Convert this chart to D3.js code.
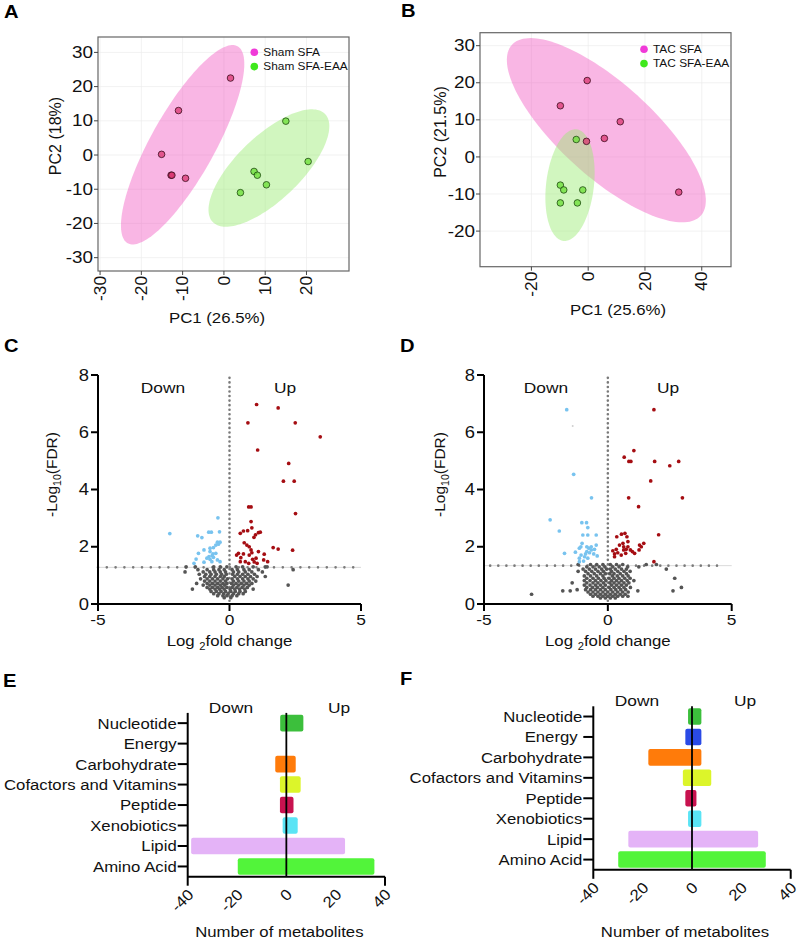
<!DOCTYPE html>
<html><head><meta charset="utf-8">
<script src="https://cdn.jsdelivr.net/npm/d3@7"></script>
<style>
body{margin:0;background:#fff;}
svg text{font-family:"Liberation Sans",Arial,Helvetica,sans-serif;}
</style></head><body>
<svg id="chart" width="800" height="941"></svg>
<script>
// ---------------- DATA ----------------
// Panel A PCA (Sham)
const pcaA_labels = ["Sham SFA", "Sham SFA-EAA"];
const pcaA_sfa = [[1.6,22.5],[-11.0,13.0],[-15.1,0.2],[-12.8,-5.9],[-12.6,-5.9],[-9.3,-6.8]];
const pcaA_eaa = [[15.0,9.9],[20.4,-1.9],[7.3,-4.8],[8.1,-5.9],[10.3,-8.7],[4.0,-11.0]];
const ellA_sfa = {c:[-10.0,3.0], u:[13.3,28.8], v:[6.8,-4.5]};
const ellA_eaa = {c:[10.9,-3.8], u:[13.6,15.8], v:[5.4,-6.7]};
const pcaA_xTicks = [-30,-20,-10,0,10,20];
const pcaA_yTicks = [-30,-20,-10,0,10,20,30];
// Panel B PCA (TAC)
const pcaB_labels = ["TAC SFA", "TAC SFA-EAA"];
const pcaB_sfa = [[-0.35,20.6],[-9.8,13.8],[11.3,9.5],[5.7,5.0],[-0.6,4.2],[31.9,-9.5]];
const pcaB_eaa = [[-4.2,4.7],[-9.8,-7.6],[-8.6,-8.9],[-1.9,-8.9],[-9.8,-12.4],[-3.8,-12.4]];
const ellB_sfa = {c:[6.4,7.2], u:[33.3,-23.0], v:[10.9,9.4]};
const ellB_eaa = {c:[-6.4,-7.6], u:[2.35,15.05], v:[8.35,-0.78]};
const pcaB_xTicks = [-20,0,20,40];
const pcaB_yTicks = [-20,-10,0,10,20,30];

// Panel C volcano
const volTicksX = [-5,0,5];
const volTicksY = [0,2,4,6,8];
const upC = [[1.03,6.97],[1.85,6.85],[0.70,6.33],[2.50,6.33],[3.45,5.84],[1.07,5.38],[2.25,4.91],[2.05,4.29],[2.46,4.29],
  [0.73,3.39],[0.82,3.39],[2.51,3.16],[0.82,2.88],[0.53,2.55],[0.69,2.56],[0.85,2.66],[0.41,2.47],[0.99,2.42],[1.10,2.49],
  [1.17,2.51],[0.93,2.33],[0.56,2.14],[0.66,2.06],[0.75,2.00],[0.82,1.89],[0.34,1.77],[0.27,1.71],[0.43,1.62],[0.53,1.75],
  [0.75,1.71],[0.85,1.79],[1.10,1.83],[0.60,1.48],[0.41,1.48],[1.01,1.60],[0.94,1.47],[1.05,1.42],[1.32,1.74],[1.30,1.54],
  [1.45,1.48],[1.66,1.97],[1.85,1.92],[2.40,1.88],[0.73,1.42],[0.88,1.56]];
const downC = [[-2.27,2.46],[-0.44,3.01],[-0.79,2.51],[-0.69,2.51],[-0.38,2.52],[-1.21,2.38],[-1.05,2.32],[-0.46,2.16],
  [-0.36,2.16],[-0.52,2.06],[-0.42,2.09],[-0.74,1.95],[-0.61,1.97],[-0.97,1.89],[-0.74,1.83],[-0.63,1.75],[-0.66,1.69],
  [-0.78,1.66],[-0.61,1.63],[-0.52,1.77],[-1.18,1.77],[-0.86,1.60],[-0.74,1.56],[-1.27,1.57],[-0.46,1.54],[-0.36,1.48],
  [-1.35,1.42],[-0.97,1.46],[-0.67,1.48]];
// grey (non-significant) rows: [y, [x...]]
const nsC = [
  [1.30,[-1.65,-1.3,-0.6,-0.35,-0.1,0.25,0.5,0.9,1.36,1.43]],
  [1.20,[-1.2,-0.85,-0.6,-0.4,-0.2,0.1,0.3,0.55,0.75,1.1,2.42]],
  [1.12,[-1.0,-0.75,-0.55,-0.35,-0.15,0.15,0.35,0.6,0.85,1.25,-1.69]],
  [1.04,[-1.15,-0.9,-0.7,-0.5,-0.3,-0.12,0.12,0.3,0.5,0.7,0.95]],
  [0.96,[-0.95,-0.75,-0.55,-0.35,-0.2,0.2,0.4,0.6,0.8,1.05,1.36]],
  [0.88,[-1.1,-0.85,-0.65,-0.45,-0.25,-0.08,0.1,0.3,0.5,0.7,0.9]],
  [0.80,[-0.95,-0.75,-0.55,-0.35,-0.15,0.15,0.35,0.55,0.75,1.0]],
  [0.72,[-1.25,-0.85,-0.65,-0.45,-0.25,-0.1,0.08,0.25,0.45,0.65,0.85]],
  [0.66,[-1.0,-0.75,-0.55,-0.35,-0.18,0.15,0.35,0.55,0.75,2.23]],
  [0.58,[-0.85,-0.65,-0.45,-0.28,-0.1,0.1,0.28,0.48,0.68]],
  [0.52,[-1.41,-0.75,-0.55,-0.38,-0.2,0.02,0.2,0.38,0.58,0.9]],
  [0.44,[-0.7,-0.5,-0.32,-0.15,0.05,0.22,0.4,0.6]],
  [0.36,[-0.6,-0.4,-0.22,-0.05,0.15,0.35,0.52]],
  [0.29,[-0.45,-0.25,-0.1,0.1,0.28]],
  [0.22,[-0.2,0.05]]
];
const threshC = 1.28;

// Panel D volcano
const upD = [[1.86,6.79],[1.05,5.36],[0.66,5.13],[0.85,4.98],[0.93,4.98],[1.89,4.98],[2.50,4.83],[2.86,4.98],[1.73,4.30],
  [0.84,3.71],[3.01,3.71],[1.24,3.40],[2.05,2.42],[0.36,2.35],[0.55,2.44],[0.77,2.35],[0.69,2.47],[0.81,2.18],[0.61,2.12],
  [0.47,2.06],[0.20,1.86],[0.34,1.91],[0.27,1.75],[0.40,1.79],[0.64,1.89],[0.72,1.77],[0.54,1.71],[0.91,1.89],[1.08,1.77],
  [1.26,1.89],[1.35,2.00],[1.45,2.12],[1.28,2.06],[0.81,2.00],[0.99,1.83],[0.64,2.00],[0.74,1.91],[1.86,1.48],[0.27,1.65]];
const downD = [[-1.66,6.79],[-1.38,4.53],[-0.66,3.71],[-2.33,2.94],[-1.05,2.84],[-0.86,2.84],[-1.96,2.55],[-0.81,2.67],
  [-1.01,2.41],[-0.81,2.41],[-0.47,2.41],[-1.04,2.12],[-1.09,2.00],[-1.15,1.95],[-0.85,2.00],[-0.77,1.95],[-0.67,1.89],
  [-0.85,1.83],[-0.74,1.79],[-0.90,1.75],[-0.54,1.91],[-0.57,1.75],[-0.47,2.06],[-0.67,2.00],[-1.08,1.71],[-0.94,1.65],
  [-1.15,1.60],[-0.81,1.60],[-0.43,1.68],[-0.98,1.50],[-1.15,1.48],[-1.75,1.77],[-1.31,1.81]];
const faintD = [[-1.42,6.22]];
const nsD = [
  [1.38,[-1.2,-0.7,-0.45,-0.2,0.1,0.35,0.6,1.55,1.96]],
  [1.30,[-0.85,-0.6,-0.35,-0.12,0.2,0.45,0.8,1.25]],
  [1.22,[-1.0,-0.75,-0.5,-0.25,-0.05,0.1,0.3,0.55,0.75,2.36]],
  [1.14,[-1.2,-0.9,-0.65,-0.4,-0.18,0.15,0.4,0.65,0.9]],
  [1.06,[-0.8,-0.55,-0.3,-0.1,0.08,0.25,0.5,0.75]],
  [0.98,[-0.95,-0.7,-0.45,-0.2,0.18,0.38,0.6,0.82]],
  [0.90,[-0.85,-0.6,-0.38,-0.15,0.05,0.25,0.45,0.68,0.9,2.70]],
  [0.82,[-0.95,-0.72,-0.5,-0.28,-0.08,0.15,0.35,0.55,0.78,1.05]],
  [0.74,[-1.44,-0.85,-0.6,-0.4,-0.18,0.08,0.25,0.45,0.65,0.85]],
  [0.66,[-0.95,-0.72,-0.5,-0.3,-0.1,0.15,0.35,0.55,0.75]],
  [0.58,[-0.85,-0.62,-0.42,-0.2,0.05,0.25,0.45,0.65,0.91,2.97]],
  [0.50,[-1.24,-0.9,-0.7,-0.5,-0.3,-0.1,0.12,0.32,0.52,0.72]],
  [0.46,[-1.82,-1.52,1.21,2.63]],
  [0.42,[-0.8,-0.6,-0.4,-0.2,0.0,0.2,0.4,0.6,0.82]],
  [0.34,[-3.08,-0.7,-0.5,-0.3,-0.1,0.1,0.3,0.5,0.7]],
  [0.27,[-0.6,-0.4,-0.2,0.0,0.2,0.4,0.6,0.81]],
  [0.21,[-0.3,-0.1,0.1,0.3]]
];
const threshD = 1.34;

// Panels E/F bars
const barCats = ["Nucleotide","Energy","Carbohydrate","Cofactors and Vitamins","Peptide","Xenobiotics","Lipid","Amino Acid"];
const barLabelsF = ["Nucleotide","Energy ","Carbohydrate","Cofactors and Vitamins","Peptide","Xenobiotics","Lipid","Amino Acid"];
const barColors = ["#3cbf3c","#2a4ae6","#ff7b0a","#dcf52a","#c8124f","#5ae4f5","#e4b3f7","#52f43a"];
const downE = [-2.5, 0, -4.5, -2.6, -2.6, -1.5, -38.6, -19.7];
const upE   = [ 6.9, 0,  3.8,  5.8,  2.9,  4.6,  23.8,  35.7];
const downF = [-1.6, -2.7, -17.7, -3.7, -2.7, -1.6, -25.8, -29.9];
const upF   = [ 3.8,  3.8,   3.8,  7.8,  1.8,  3.8,  26.8,  29.9];
const barTicks = [-40,-20,0,20,40];

// ---------------- DRAWING ----------------
const svg = d3.select("#chart");
const SX = 1.12;
function txt(g, x, y, s, o = {}) {
  const t = g.append("text")
    .attr("transform", `translate(${x},${y}) rotate(${o.rotate || 0}) scale(${o.sx == null ? SX : o.sx},1)`)
    .attr("text-anchor", o.anchor || "start")
    .attr("font-size", o.size || 15)
    .attr("font-weight", o.weight || "normal")
    .attr("fill", o.fill || "#111");
  if (o.dy) t.attr("dy", o.dy);
  if (o.pre) t.style("white-space", "pre");
  t.text(s);
  return t;
}

// panel letters
[["A",4,18],["B",401,17],["C",4,352],["D",400,352],["E",3,687],["F",400,685]].forEach(d =>
  txt(svg, d[1], d[2], d[0], {size: 18, weight: "bold", fill: "#000"}));

function ellPts(e) {
  return d3.range(0, 145).map(i => {
    const t = i / 144 * 2 * Math.PI;
    return [e.c[0] + Math.cos(t) * e.u[0] + Math.sin(t) * e.v[0],
            e.c[1] + Math.cos(t) * e.u[1] + Math.sin(t) * e.v[1]];
  });
}

function drawPCA(c) {
  const g = svg.append("g");
  const x = d3.scaleLinear().domain(c.xDom).range([c.left, c.right]);
  const y = d3.scaleLinear().domain(c.yDom).range([c.bottom, c.top]);
  g.selectAll(null).data(c.xTicks).join("line")
    .attr("x1", d => x(d)).attr("x2", d => x(d)).attr("y1", c.top).attr("y2", c.bottom)
    .attr("stroke", "#ececec").attr("stroke-width", 0.7);
  g.selectAll(null).data(c.yTicks).join("line")
    .attr("y1", d => y(d)).attr("y2", d => y(d)).attr("x1", c.left).attr("x2", c.right)
    .attr("stroke", "#ececec").attr("stroke-width", 0.7);
  const line = d3.line().x(d => x(d[0])).y(d => y(d[1])).curve(d3.curveLinearClosed);
  g.append("path").attr("d", line(ellPts(c.ell1))).attr("fill", "#f050bf").attr("fill-opacity", 0.42);
  g.append("path").attr("d", line(ellPts(c.ell2))).attr("fill", "#98ea70").attr("fill-opacity", 0.45);
  g.selectAll(null).data(c.pts1).join("circle")
    .attr("cx", d => x(d[0])).attr("cy", d => y(d[1])).attr("r", 3.3)
    .attr("fill", "#d8306c").attr("fill-opacity", 0.72).attr("stroke", "#3a0a1c").attr("stroke-width", 0.8);
  g.selectAll(null).data(c.pts2).join("circle")
    .attr("cx", d => x(d[0])).attr("cy", d => y(d[1])).attr("r", 3.3)
    .attr("fill", "#6fe03c").attr("fill-opacity", 0.8).attr("stroke", "#1e4a10").attr("stroke-width", 0.8);
  g.append("rect").attr("x", c.left).attr("y", c.top).attr("width", c.right - c.left).attr("height", c.bottom - c.top)
    .attr("fill", "none").attr("stroke", "#666").attr("stroke-width", 1.2);
  // ticks
  g.selectAll(null).data(c.yTicks).join("line")
    .attr("x1", c.left - 4).attr("x2", c.left).attr("y1", d => y(d)).attr("y2", d => y(d))
    .attr("stroke", "#444").attr("stroke-width", 1);
  g.selectAll(null).data(c.xTicks).join("line")
    .attr("y1", c.bottom).attr("y2", c.bottom + 4).attr("x1", d => x(d)).attr("x2", d => x(d))
    .attr("stroke", "#444").attr("stroke-width", 1);
  c.yTicks.forEach(t => txt(g, c.left - 5, y(t), String(t), {anchor: "end", dy: "0.35em", size: 16, sx: 1.18}));
  c.xTicks.forEach(t => txt(g, x(t), c.bottom + 5, String(t), {anchor: "end", dy: "0.35em", size: 16, rotate: -90, sx: 1.08}));
  txt(g, c.yLabX, c.yLabY, c.yLab, {anchor: "middle", rotate: -90, size: 16, sx: 1});
  txt(g, c.xLabX, c.xLabY, c.xLab, {anchor: "middle", size: 15});
  // legend
  const lc = ["#f03ad8", "#3fe81c"];
  c.legend.forEach((s, i) => {
    g.append("circle").attr("cx", c.legX).attr("cy", c.legY + i * 14.3).attr("r", 3.8).attr("fill", lc[i]);
    txt(g, c.legX + 9, c.legY + i * 14.3, s, {size: 11, dy: "0.35em", sx: 1.08});
  });
}

drawPCA({left: 98, right: 349, top: 37, bottom: 271, xDom: [-30.5, 30.3], yDom: [-33.9, 34.5],
  xTicks: pcaA_xTicks, yTicks: pcaA_yTicks, ell1: ellA_sfa, ell2: ellA_eaa, pts1: pcaA_sfa, pts2: pcaA_eaa,
  yLab: "PC2 (18%)", yLabX: 61, yLabY: 136, xLab: "PC1 (26.5%)", xLabX: 217, xLabY: 323,
  legend: pcaA_labels, legX: 254.3, legY: 52.3});
drawPCA({left: 480, right: 731, top: 32.7, bottom: 266.7, xDom: [-38.1, 50.3], yDom: [-29.6, 33.5],
  xTicks: pcaB_xTicks, yTicks: pcaB_yTicks, ell1: ellB_sfa, ell2: ellB_eaa, pts1: pcaB_sfa, pts2: pcaB_eaa,
  yLab: "PC2 (21.5%)", yLabX: 446, yLabY: 132, xLab: "PC1 (25.6%)", xLabX: 618, xLabY: 315,
  legend: pcaB_labels, legX: 644, legY: 49.3});

function drawVolcano(c) {
  const g = svg.append("g");
  const x = d3.scaleLinear().domain([-5, 5]).range([c.left, c.right]);
  const y = d3.scaleLinear().domain([0, 8]).range([c.bottom, c.top]);
  // threshold lines
  g.append("line").attr("x1", x(-5)).attr("x2", x(5)).attr("y1", y(c.thresh)).attr("y2", y(c.thresh))
    .attr("stroke", "#c8c8c8").attr("stroke-width", 0.7);
  g.append("line").attr("x1", x(c.hStart)).attr("x2", x(c.hEnd)).attr("y1", y(c.thresh)).attr("y2", y(c.thresh))
    .attr("stroke", "#7a7a7a").attr("stroke-width", 2.6).attr("stroke-linecap", "round")
    .attr("stroke-dasharray", `0 ${c.hGap}`);
  g.append("line").attr("x1", x(0)).attr("x2", x(0)).attr("y1", y(7.9)).attr("y2", y(0.1))
    .attr("stroke", "#7a7a7a").attr("stroke-width", 2.6).attr("stroke-linecap", "round")
    .attr("stroke-dasharray", "0 4.55");
  const ns = [];
  c.ns.forEach(r => r[1].forEach(v => ns.push([v, r[0]])));
  g.selectAll(null).data(ns).join("circle").attr("cx", d => x(d[0])).attr("cy", d => y(d[1])).attr("r", 1.85).attr("fill", "#555");
  g.selectAll(null).data(c.faint || []).join("circle").attr("cx", d => x(d[0])).attr("cy", d => y(d[1])).attr("r", 1).attr("fill", "#d0d0d0");
  g.selectAll(null).data(c.down).join("circle").attr("cx", d => x(d[0])).attr("cy", d => y(d[1])).attr("r", 1.85).attr("fill", "#78c3ef");
  g.selectAll(null).data(c.up).join("circle").attr("cx", d => x(d[0])).attr("cy", d => y(d[1])).attr("r", 1.85).attr("fill", "#a50d12");
  // axes
  g.append("line").attr("x1", c.left).attr("x2", c.left).attr("y1", c.top).attr("y2", c.bottom).attr("stroke", "#000").attr("stroke-width", 2);
  g.append("line").attr("x1", c.left).attr("x2", c.right).attr("y1", c.bottom).attr("y2", c.bottom).attr("stroke", "#000").attr("stroke-width", 2);
  g.selectAll(null).data(volTicksY).join("line").attr("x1", c.left - 7).attr("x2", c.left).attr("y1", d => y(d)).attr("y2", d => y(d)).attr("stroke", "#000").attr("stroke-width", 2);
  g.selectAll(null).data(volTicksX).join("line").attr("x1", d => x(d)).attr("x2", d => x(d)).attr("y1", c.bottom).attr("y2", c.bottom + 7).attr("stroke", "#000").attr("stroke-width", 2);
  volTicksY.forEach(t => txt(g, c.left - 9, y(t), String(t), {anchor: "end", dy: "0.35em", size: 16, sx: 1.15}));
  volTicksX.forEach(t => txt(g, x(t), c.bottom + 21, String(t), {anchor: "middle", size: 15.5}));
  txt(g, c.downX, 393, "Down", {anchor: "middle", size: 15.5});
  txt(g, c.upX, 393, "Up", {anchor: "middle", size: 15.5});
  // y label
  const yl = g.append("text").attr("transform", `translate(${c.yLabX},${(c.top + c.bottom) / 2 - 15}) rotate(-90)`)
    .attr("text-anchor", "middle").attr("font-size", 15.5).attr("fill", "#111");
  yl.append("tspan").text("-Log");
  yl.append("tspan").attr("font-size", 10.5).attr("dy", 4).text("10");
  yl.append("tspan").attr("dy", -4).text("(FDR)");
  const xl = g.append("text").attr("transform", `translate(${(c.left + c.right) / 2},646) scale(${SX},1)`)
    .attr("text-anchor", "middle").attr("font-size", 15).attr("fill", "#111");
  xl.append("tspan").text("Log ");
  xl.append("tspan").attr("font-size", 10).attr("dy", 4).text("2");
  xl.append("tspan").attr("dy", -4).text("fold change");
}

drawVolcano({left: 98, right: 361, top: 375, bottom: 604, thresh: threshC, hStart: -5, hEnd: 5, hGap: 8.8,
  up: upC, down: downC, ns: nsC, downX: 163, upX: 285, yLabX: 57});
drawVolcano({left: 484, right: 731.7, top: 375, bottom: 604, thresh: threshD, hStart: -4.75, hEnd: 4.72, hGap: 8.1,
  up: upD, down: downD, ns: nsD, faint: faintD, downX: 546, upX: 668, yLabX: 445});

function drawBars(c) {
  const g = svg.append("g");
  const x = d3.scaleLinear().domain([-40, 40]).range([c.left, c.right]);
  const y = d3.scaleBand().domain(barCats).range([c.top, c.bottom]).paddingInner(0.19).paddingOuter(0.095);
  barCats.forEach((k, i) => {
    const lo = c.down[i], hi = c.up[i];
    if (hi - lo <= 0) return;
    g.append("rect").attr("x", x(lo)).attr("width", x(hi) - x(lo)).attr("y", y(k)).attr("height", y.bandwidth())
      .attr("rx", 2).attr("fill", barColors[i]);
  });
  g.append("line").attr("x1", x(0)).attr("x2", x(0)).attr("y1", c.top).attr("y2", c.bottom).attr("stroke", "#000").attr("stroke-width", 1.8);
  g.append("line").attr("x1", c.left).attr("x2", c.left).attr("y1", c.top).attr("y2", c.bottom + 9).attr("stroke", "#000").attr("stroke-width", 2);
  g.append("line").attr("x1", c.left).attr("x2", c.right).attr("y1", c.bottom).attr("y2", c.bottom).attr("stroke", "#000").attr("stroke-width", 2);
  g.append("line").attr("x1", c.right).attr("x2", c.right).attr("y1", c.bottom).attr("y2", c.bottom + 9).attr("stroke", "#000").attr("stroke-width", 2);
  barCats.forEach((k, i) => {
    const cy = y(k) + y.bandwidth() / 2;
    g.append("line").attr("x1", c.left - 10).attr("x2", c.left).attr("y1", cy).attr("y2", cy).attr("stroke", "#000").attr("stroke-width", 2);
    txt(g, c.left - 11, cy, c.labels[i], {anchor: "end", dy: "0.35em", size: 15.5, sx: 1.08, pre: true});
  });
  barTicks.forEach(t => txt(g, x(t) + 3, c.bottom + 15, String(t), {anchor: "end", dy: "0.35em", size: 15.5, rotate: -45, sx: 1.08}));
  txt(g, c.downX, c.top, "Down", {anchor: "middle", size: 15.5});
  txt(g, c.upX, c.top, "Up", {anchor: "middle", size: 15.5});
  txt(g, (c.left + c.right) / 2 - 7, 936.5, "Number of metabolites", {anchor: "middle", size: 15.5, sx: 1.08});
}

drawBars({left: 187.7, right: 385, top: 712.9, bottom: 876.7, down: downE, up: upE, labels: barCats, downX: 231, upX: 339});
drawBars({left: 593.3, right: 790.7, top: 706.3, bottom: 869.8, down: downF, up: upF, labels: barLabelsF, downX: 637, upX: 745});
</script>
</body></html>
